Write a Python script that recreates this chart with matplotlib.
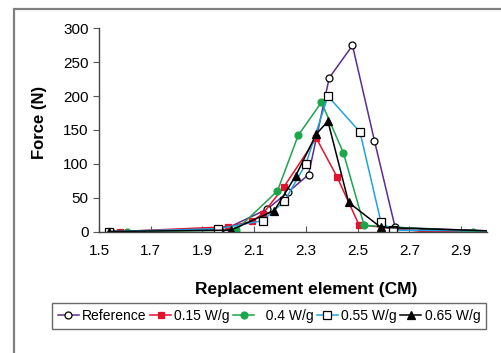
import matplotlib.pyplot as plt
from matplotlib.patches import Rectangle

# data
ref_x = [1.545, 1.99, 2.15, 2.23, 2.31, 2.39, 2.48, 2.565, 2.645, 3.0]
ref_y = [0, 4, 33, 58, 84, 227, 275, 134, 6, 1]

w015_x = [1.58, 2.0, 2.09, 2.133, 2.215, 2.34, 2.42, 2.505, 2.75, 3.0]
w015_y = [0, 7, 15, 26, 66, 138, 81, 10, 0, 1]

w04_x = [1.61, 2.03, 2.19, 2.27, 2.36, 2.445, 2.525, 2.945, 3.0]
w04_y = [0, 2, 60, 142, 191, 116, 9, 0, 1]

w055_x = [1.54, 1.96, 2.133, 2.217, 2.30, 2.385, 2.509, 2.59, 2.635, 3.0]
w055_y = [0, 4, 16, 45, 100, 200, 147, 14, 2, 1]

w065_x = [1.54, 2.01, 2.178, 2.26, 2.34, 2.385, 2.465, 2.59, 3.0]
w065_y = [0, 2, 31, 82, 144, 163, 43, 6, 1]

xticks = [1.5, 1.7, 1.9, 2.1, 2.3, 2.5, 2.7, 2.9]
yticks = [0, 50, 100, 150, 200, 250, 300]

plt.rcParams["font.family"] = ["Liberation Sans", "DejaVu Sans"]

fig = plt.figure(figsize=(5.02, 3.53), dpi=100)
ax = fig.add_axes([99 / 502, 1 - 231.5 / 353, 388 / 502, 203 / 353])

series = [
	(ref_x, ref_y, "Reference", "#5a2d91", "o", "white", 5),
	(w015_x, w015_y, "0.15 W/g", "#e4112f", "s", "#e4112f", 5),
	(w04_x, w04_y, "  0.4 W/g", "#1ba64c", "o", "#1ba64c", 5),
	(w055_x, w055_y, "0.55 W/g", "#1ea3e0", "s", "white", 6),
	(w065_x, w065_y, "0.65 W/g", "black", "^", "black", 6),
]
for xs, ys, label, color, marker, face, ms in series:
	edge = "black" if face == "white" else color
	ax.plot(xs, ys, color=color, lw=1.1, marker=marker, ms=ms,
		markerfacecolor=face, markeredgecolor=edge, markeredgewidth=0.9,
		markevery=list(range(len(xs) - 1)), label=label)

ax.set_xlim(1.5, 3.0)
ax.set_ylim(0, 300)
ax.set_xticks(xticks)
ax.set_yticks(yticks)
ax.set_xticklabels([f"{t:.1f}" for t in xticks])
ax.tick_params(axis="x", direction="in", length=4, labelsize=11, pad=9, color="#555555")
ax.tick_params(axis="y", direction="out", length=4, labelsize=11, color="#555555")
for side in ["top", "right"]:
	ax.spines[side].set_visible(False)
for side in ["left", "bottom"]:
	ax.spines[side].set_color("#444444")
	ax.spines[side].set_linewidth(1.0)

ax.set_ylabel("Force (N)", fontsize=12, fontweight="bold")
ax.set_xlabel("Replacement element (CM)", fontsize=12.5, fontweight="bold")
ax.yaxis.set_label_coords(-0.134, 0.535)
ax.xaxis.set_label_coords(0.534, -0.248)

leg = fig.legend(loc="center", bbox_to_anchor=(269 / 502, 1 - 316 / 353), ncol=5,
	fontsize=10, frameon=True, fancybox=False, handlelength=1.5,
	handletextpad=0.25, columnspacing=0.25, borderpad=0.45, borderaxespad=0)
leg.get_frame().set_edgecolor("#444444")
leg.get_frame().set_linewidth(1.0)

fig.patches.append(Rectangle((14 / 502, -0.1), 1.0, 1.1 - 9 / 353,
	transform=fig.transFigure, fill=False, edgecolor="#808080", lw=1.6))

plt.savefig("out.png", dpi=100)
